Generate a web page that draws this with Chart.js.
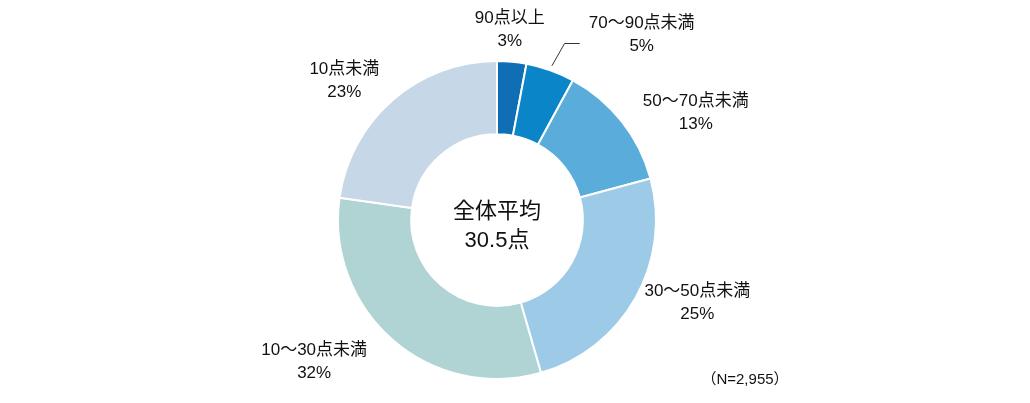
<!DOCTYPE html>
<html>
<head>
<meta charset="utf-8">
<script src="https://cdn.jsdelivr.net/npm/chart.js@4/dist/chart.umd.min.js"></script>
<style>
  html, body { margin: 0; padding: 0; background: #fff; }
  #wrap { width: 1030px; height: 403px; position: relative; }
</style>
</head>
<body>
<div id="wrap"><canvas id="chart"></canvas></div>
<script>
// score bands, clockwise from 12 o'clock
const categories = ["90点以上", "70～90点未満", "50～70点未満", "30～50点未満", "10～30点未満", "10点未満"];
const shares     = [3, 5, 13, 25, 32, 23];
const colors     = ["#0f6eb4", "#0a85c8", "#5aaddb", "#9dcbe7", "#b0d4d3", "#c6d7e7"];

// label anchors as fractions of the outer radius, relative to the donut centre
const labelAnchor = [[0.08, -1.2], [0.91, -1.17], [1.25, -0.68], [1.26, 0.52], [-1.15, 0.89], [-0.96, -0.88]];

const centerTitle = ["全体平均", "30.5点"];
const note = "（N=2,955）";

const FONT = "'Liberation Sans', 'Noto Sans CJK JP', sans-serif";

const labelsPlugin = {
  id: "donutLabels",
  afterDatasetsDraw(chart) {
    const ctx = chart.ctx;
    const arcs = chart.getDatasetMeta(0).data;
    const cx = arcs[0].x, cy = arcs[0].y, R = arcs[0].outerRadius;
    ctx.save();
    ctx.fillStyle = "#111";
    ctx.textAlign = "center";
    ctx.textBaseline = "middle";
    ctx.font = "17px " + FONT;
    categories.forEach((c, i) => {
      const [fx, fy] = labelAnchor[i];
      const x = cx + fx * R, y = cy + fy * R;
      ctx.fillText(c, x, y - 11);
      ctx.fillText(shares[i] + "%", x, y + 12);
    });
    // leader line for the thin 70-90 slice
    const a = arcs[1];
    const mid = (a.startAngle + a.endAngle) / 2;
    ctx.strokeStyle = "#333";
    ctx.lineWidth = 1;
    ctx.beginPath();
    ctx.moveTo(cx + Math.cos(mid) * R * 1.03, cy + Math.sin(mid) * R * 1.03);
    ctx.lineTo(cx + 0.425 * R, cy - 1.11 * R);
    ctx.lineTo(cx + 0.52 * R, cy - 1.11 * R);
    ctx.stroke();
    // centre text
    ctx.font = "22px " + FONT;
    ctx.fillText(centerTitle[0], cx, cy - 8);
    ctx.fillText(centerTitle[1], cx, cy + 21);
    // sample size
    ctx.font = "15px " + FONT;
    ctx.fillText(note, 745, 380);
    ctx.restore();
  }
};

new Chart(document.getElementById("chart"), {
  type: "doughnut",
  data: {
    labels: categories,
    datasets: [{
      data: shares,
      backgroundColor: colors,
      borderColor: "#fff",
      borderWidth: 2,
    }],
  },
  options: {
    responsive: true,
    maintainAspectRatio: false,
    animation: false,
    cutout: "54%",
    layout: { padding: { top: 60, bottom: 23, left: 0, right: 36 } },
    plugins: { legend: { display: false }, tooltip: { enabled: false } },
  },
  plugins: [labelsPlugin],
});
</script>
</body>
</html>
